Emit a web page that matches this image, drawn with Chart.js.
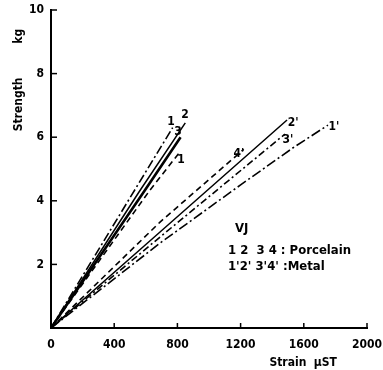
<!DOCTYPE html>
<html><head><meta charset="utf-8">
<script src="https://cdn.jsdelivr.net/npm/chart.js@4/dist/chart.umd.min.js"></script>
<style>html,body{margin:0;padding:0;background:#fff}</style>
</head><body>
<canvas id="c" width="383" height="370"></canvas>
<script>
// ---- data ----
const xTicks = [0, 400, 800, 1200, 1600, 2000];
const yTicks = [0, 2, 4, 6, 8, 10];
const seriesNames = ['1', '2', '3', '4', "1'", "2'", "3'", "4'"];
// Porcelain
const strain1 = [0, 530, 770];   const strength1 = [0, 4.34, 6.3];
const strain2 = [0, 560, 850];   const strength2 = [0, 4.3, 6.45];
const strain3 = [0, 590, 820];   const strength3 = [0, 4.3, 6.0];
const strain4 = [0, 627, 810];   const strength4 = [0, 4.34, 5.5];
// Metal
const strain1m = [0, 690, 1200, 1530, 1753]; const strength1m = [0, 2.67, 4.5, 5.66, 6.38];
const strain2m = [0, 690, 1494];  const strength2m = [0, 3.02, 6.54];
const strain3m = [0, 690, 1481];  const strength3m = [0, 2.86, 6.1];
const strain4m = [0, 690, 1220];  const strength4m = [0, 3.33, 5.62];
// line label positions (data units)
const labelText = ['1', '2', '3', '1', "1'", "2'", "3'", "4'"];
const labelX = [760, 848, 804, 823, 1791, 1532, 1500, 1190];
const labelY = [6.48, 6.70, 6.16, 5.28, 6.32, 6.45, 5.91, 5.47];
// legend text
const legendLines = ['VJ', '1 2  3 4 : Porcelain', "1'2' 3'4' :Metal"];
const legendX = [1165, 1120, 1120];
const legendY = [3.11, 2.42, 1.92];

const toPts = (xs, ys) => xs.map((v, i) => ({x: v, y: ys[i]}));
const styles = [
  {dash: [9, 3, 2, 3], w: 1.6},
  {dash: [], w: 1.5},
  {dash: [], w: 2.6},
  {dash: [6, 4], w: 1.6},
  {dash: [10, 3, 2, 3], w: 1.6},
  {dash: [], w: 1.5},
  {dash: [7, 3, 2, 3], w: 1.6},
  {dash: [6, 4], w: 1.6}
];
const allX = [strain1, strain2, strain3, strain4, strain1m, strain2m, strain3m, strain4m];
const allY = [strength1, strength2, strength3, strength4, strength1m, strength2m, strength3m, strength4m];

const datasets = seriesNames.map((n, i) => ({
  label: n,
  data: toPts(allX[i], allY[i]),
  borderColor: '#000',
  borderWidth: styles[i].w,
  borderDash: styles[i].dash,
  pointRadius: 0,
  fill: false,
  tension: 0
}));

const FONT = '"DejaVu Sans Condensed", "DejaVu Sans", sans-serif';

const annot = {
  id: 'annot',
  afterDraw(chart) {
    const {ctx, scales: {x, y}} = chart;
    ctx.save();
    ctx.strokeStyle = '#000';
    ctx.lineWidth = 1.5;
    xTicks.forEach(v => {
      const p = x.getPixelForValue(v);
      ctx.beginPath(); ctx.moveTo(p, y.bottom); ctx.lineTo(p, y.bottom - 5); ctx.stroke();
    });
    yTicks.forEach(v => {
      const p = y.getPixelForValue(v);
      ctx.beginPath(); ctx.moveTo(x.left, p); ctx.lineTo(x.left + 6, p); ctx.stroke();
    });
    ctx.fillStyle = '#000';
    ctx.textBaseline = 'middle';
    ctx.textAlign = 'center';
    ctx.font = 'bold 12px ' + FONT;
    labelText.forEach((t, i) => ctx.fillText(t, x.getPixelForValue(labelX[i]), y.getPixelForValue(labelY[i])));
    ctx.textAlign = 'left';
    ctx.font = 'bold 13px ' + FONT;
    legendLines.forEach((t, i) => ctx.fillText(t, x.getPixelForValue(legendX[i]), y.getPixelForValue(legendY[i])));
    ctx.restore();
  }
};

new Chart(document.getElementById('c'), {
  type: 'line',
  data: {datasets},
  options: {
    responsive: false,
    animation: false,
    devicePixelRatio: 1,
    layout: {padding: {top: 10, right: 16, left: 0, bottom: 0}},
    plugins: {legend: {display: false}, tooltip: {enabled: false}},
    scales: {
      x: {
        type: 'linear', min: 0, max: 2000,
        afterBuildTicks: s => { s.ticks = xTicks.map(v => ({value: v})); },
        afterFit: s => { s.height = 42; s.paddingLeft = 0; s.paddingRight = 0; },
        grid: {display: false, drawTicks: false},
        border: {display: true, color: '#000', width: 2},
        ticks: {color: '#000', padding: 10, maxRotation: 0, callback: v => String(v), font: {family: FONT, size: 12, weight: 'bold'}},
        title: {display: true, text: 'Strain  µST        ', align: 'end', color: '#000', padding: {top: 0, bottom: 0}, font: {family: FONT, size: 12, weight: 'bold'}}
      },
      y: {
        type: 'linear', min: 0, max: 10,
        afterBuildTicks: s => { s.ticks = yTicks.map(v => ({value: v})); },
        afterFit: s => { s.width = 51; s.paddingTop = 0; s.paddingBottom = 0; },
        grid: {display: false, drawTicks: false},
        border: {display: true, color: '#000', width: 2},
        ticks: {color: '#000', padding: 7, callback: v => v === 0 ? '' : String(v), font: {family: FONT, size: 12, weight: 'bold'}},
        title: {display: true, text: 'Strength         kg     ', align: 'end', color: '#000', padding: {top: 12, bottom: 0}, font: {family: FONT, size: 12, weight: 'bold'}}
      }
    }
  },
  plugins: [annot]
});
</script>
</body></html>
